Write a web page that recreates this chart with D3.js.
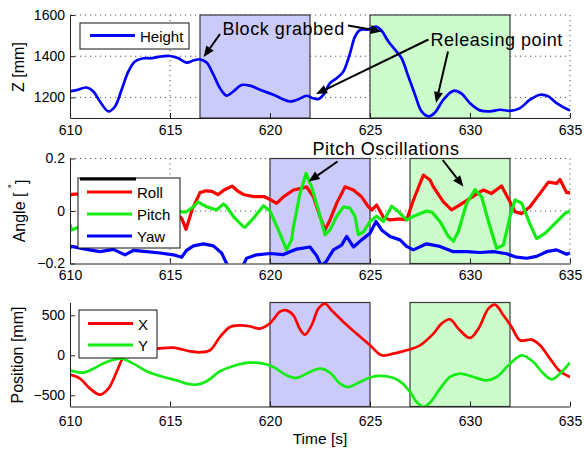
<!DOCTYPE html>
<html>
<head>
<meta charset="utf-8">
<script src="https://cdn.jsdelivr.net/npm/d3@7"></script>
<style>
  body { margin: 0; background: #fff; }
  text { font-family: "Liberation Sans", Arial, Helvetica, sans-serif; fill: #000; }
</style>
</head>
<body>
<div id="chart"></div>
<script>
// time axis
var timeTicks = [610, 615, 620, 625, 630, 635];

// top panel: height [mm]
var zTicks = [1200, 1400, 1600];
var heightZ = [[610,1229],[610.33,1235],[610.83,1248],[611.17,1229],[611.5,1180],[611.92,1132],[612.25,1156],
  [612.58,1237],[612.92,1326],[613.25,1374],[613.67,1390],[614.08,1390],[614.5,1398],[615,1401],[615.42,1390],
  [615.83,1369],[616.17,1379],[616.5,1385],[616.83,1369],[617.17,1310],[617.5,1245],[617.83,1209],[618.17,1229],
  [618.58,1260],[619,1257],[619.5,1237],[620.17,1213],[621,1180],[621.42,1191],[621.83,1208],[622.1,1197],
  [622.42,1192],[622.67,1213],[623,1269],[623.33,1293],[623.67,1326],[624,1414],[624.25,1495],[624.5,1527],
  [624.92,1530],[625.33,1543],[625.58,1524],[625.92,1471],[626.33,1422],[626.58,1390],[626.92,1301],[627.25,1213],
  [627.58,1132],[627.92,1108],[628.25,1127],[628.67,1189],[629.17,1232],[629.58,1218],[630,1172],[630.5,1137],
  [631,1132],[631.5,1140],[632,1135],[632.5,1148],[633,1189],[633.5,1213],[633.92,1205],[634.33,1172],
  [634.92,1140],[635,1138]];

// middle panel: angles
var angleTicks = [-0.2, 0, 0.2];
var roll = [[610,0.06],[610.08,0.063],[610.5,0.065],[611,0.07],[611.5,0.06],[612,0.065],[612.5,0.055],[613,0.06],
  [613.5,0.05],[614,0.055],[614.5,0.04],[615,0.02],[615.4,-0.015],[615.6,-0.03],[615.8,-0.07],[616.1,0.004],
  [616.5,0.07],[616.8,0.077],[617.1,0.075],[617.4,0.062],[617.7,0.08],[618.1,0.095],[618.4,0.075],[618.7,0.062],
  [619.2,0.055],[619.7,0.055],[620,0.044],[620.33,0.029],[620.67,0.054],[621.17,0.08],[621.5,0.085],[621.83,0.092],
  [622.17,0.054],[622.5,-0.021],[622.75,-0.072],[623,-0.034],[623.33,0.029],[623.75,0.092],[624.17,0.08],
  [624.58,0.054],[624.92,0.016],[625.1,0.004],[625.33,0.023],[625.67,-0.024],[626,-0.034],[626.5,-0.03],
  [626.83,-0.034],[627.17,0.042],[627.67,0.137],[628,0.118],[628.17,0.092],[628.5,0.054],[628.67,0.035],
  [629.08,0.004],[629.5,0.023],[630,0.048],[630.5,0.073],[630.67,0.08],[631.08,0.067],[631.58,0.095],[632,0.035],
  [632.25,-0.003],[632.58,-0.01],[633,0.016],[633.5,0.067],[633.92,0.11],[634.33,0.105],[634.5,0.12],
  [634.83,0.07],[635,0.07]];
var pitch = [[610,-0.05],[610.08,-0.072],[610.5,-0.06],[611,-0.04],[611.5,-0.05],[612,-0.03],[612.5,-0.04],
  [613,-0.02],[613.5,-0.03],[614,-0.01],[614.5,-0.02],[615,-0.01],[615.42,-0.003],[615.83,-0.003],[616.17,0.016],
  [616.4,0.035],[616.83,0.016],[617.33,0.004],[617.67,0.027],[617.83,0.016],[618.17,-0.021],[618.67,-0.06],
  [618.75,-0.062],[619.17,-0.028],[619.67,0.02],[620,0],[620.42,-0.072],[620.83,-0.148],[621.08,-0.11],
  [621.17,-0.062],[621.5,0.067],[621.8,0.143],[622.08,0.092],[622.42,0.004],[622.75,-0.091],[623,-0.072],
  [623.33,-0.021],[623.67,0.016],[624,0.011],[624.25,-0.02],[624.42,-0.09],[624.67,-0.08],[625,-0.04],
  [625.33,-0.02],[625.67,-0.04],[626.08,0.018],[626.33,0.004],[626.83,-0.034],[627.33,-0.015],[627.83,0],
  [628.1,-0.005],[628.5,-0.04],[628.92,-0.097],[629.17,-0.115],[629.42,-0.077],[629.83,0.029],[630.25,0.082],
  [630.58,0.054],[631,-0.06],[631.33,-0.142],[631.67,-0.13],[632,-0.021],[632.25,0.042],[632.58,0.03],
  [633,-0.05],[633.33,-0.105],[633.75,-0.085],[634.25,-0.047],[634.75,-0.009],[635,0]];
var yaw = [[610,-0.14],[610.08,-0.135],[610.83,-0.146],[611.5,-0.155],[612.17,-0.146],[612.75,-0.167],
  [613.17,-0.15],[613.83,-0.155],[614.5,-0.16],[615.17,-0.167],[615.58,-0.176],[615.83,-0.15],[616.17,-0.133],
  [616.67,-0.125],[617.17,-0.133],[617.58,-0.16],[617.83,-0.2],[618.1,-0.23],[618.5,-0.23],[618.83,-0.18],
  [619.33,-0.167],[620,-0.162],[620.67,-0.166],[621.33,-0.145],[622,-0.137],[622.33,-0.17],[622.58,-0.21],
  [622.83,-0.19],[623.17,-0.148],[623.58,-0.13],[623.83,-0.097],[624.17,-0.137],[624.58,-0.11],[625,-0.085],
  [625.3,-0.04],[625.58,-0.072],[626,-0.097],[626.5,-0.11],[626.83,-0.135],[627.17,-0.148],[627.83,-0.125],
  [628.5,-0.135],[629.17,-0.155],[629.83,-0.155],[630.5,-0.158],[631.17,-0.155],[631.83,-0.163],[632.33,-0.176],
  [632.83,-0.18],[633.33,-0.173],[633.83,-0.155],[634.33,-0.148],[634.83,-0.165],[635,-0.16]];

// bottom panel: position [mm]
var posTicks = [-500, 0, 500];
var posX = [[610,-242],[610.5,-292],[611,-417],[611.5,-492],[611.92,-417],[612.33,-208],[612.67,-21],[613,63],
  [613.5,90],[614,90],[614.3,83],[615.17,96],[616,50],[616.5,38],[617,63],[617.5,229],[618,354],[618.5,375],
  [619,362],[619.5,333],[620,400],[620.5,545],[620.83,562],[621.17,500],[621.5,325],[621.75,258],[622.08,375],
  [622.42,583],[622.75,646],[623.08,562],[623.67,417],[624.33,271],[625,125],[625.58,0],[626.17,21],[626.83,63],
  [627.5,125],[628.17,271],[628.58,396],[629,450],[629.42,333],[630,217],[630.42,333],[630.92,583],[631.25,633],
  [631.67,500],[632.08,354],[632.5,188],[633.08,196],[633.5,125],[634,-42],[634.5,-200],[635,-271]];
var posY = [[610,-188],[610.67,-217],[611.17,-167],[611.83,-83],[612.58,-42],[613.17,-104],[613.83,-200],
  [614.5,-258],[615.33,-313],[615.83,-354],[616.33,-367],[616.83,-325],[617.5,-200],[618.17,-133],[619,-92],
  [619.67,-104],[620.17,-146],[620.83,-250],[621.33,-283],[621.92,-217],[622.5,-167],[623,-217],[623.5,-354],
  [623.92,-396],[624.5,-333],[625.08,-271],[625.58,-258],[626.17,-283],[626.58,-342],[627,-458],[627.33,-583],
  [627.67,-646],[628,-592],[628.5,-417],[629,-271],[629.5,-229],[630.17,-271],[630.83,-313],[631.33,-271],
  [631.92,-125],[632.58,0],[633.17,-83],[633.67,-229],[634.08,-300],[634.5,-229],[635,-92]];

// shaded phases [start, end]
var grabTop = [616.5, 622], releaseTop = [625, 632];
var grabLow = [620, 625], releaseLow = [627, 632];

var BLUE = "#0000ff", RED = "#ff0000", GREEN = "#14ec14";

var svg = d3.select("#chart").append("svg").attr("width", 584).attr("height", 450);

var x = d3.scaleLinear().domain([610, 635]).range([70, 570]);

var panels = [
  { y: d3.scaleLinear().domain([1100, 1600]).range([118, 15]), ticks: zTicks, grid: true,
    blocks: [grabTop, releaseTop], pad: 7.5, smooth: true,
    series: [{ data: heightZ, color: BLUE, name: "Height" }],
    legend: { x: 80, y: 23, w: 109, h: 26, lx: 90, tx: 140, rows: [35.5] } },
  { y: d3.scaleLinear().domain([-0.2, 0.2]).range([263.5, 158.5]), ticks: angleTicks, grid: true,
    blocks: [grabLow, releaseLow], pad: 6.5, smooth: false,
    series: [{ data: roll, color: RED, name: "Roll" }, { data: pitch, color: GREEN, name: "Pitch" },
             { data: yaw, color: BLUE, name: "Yaw" }],
    legend: { x: 78, y: 178, w: 102, h: 70, lx: 87, tx: 137, rows: [192, 214, 236], bar: true } },
  { y: d3.scaleLinear().domain([-640, 660]).range([406.5, 302.5]), ticks: posTicks, grid: false,
    blocks: [grabLow, releaseLow], pad: 10, smooth: true,
    series: [{ data: posX, color: RED, name: "X" }, { data: posY, color: GREEN, name: "Y" }],
    legend: { x: 79, y: 310, w: 78, h: 48, lx: 88, tx: 138, rows: [323.5, 345] } }
];

function fmt(v) {
  return v < 0 ? "\u2212" + Math.abs(v) : String(v);
}

panels.forEach(function (p, i) {
  var y = p.y, top = y.range()[1], bot = y.range()[0];
  var g = svg.append("g");

  g.append("clipPath").attr("id", "clip" + i).append("rect")
    .attr("x", 70).attr("y", top).attr("width", 500).attr("height", bot - top);

  if (p.grid) {
    var grid = g.append("g").attr("stroke", "#555").attr("stroke-width", 1).attr("stroke-dasharray", "1.2,3.8");
    grid.selectAll(".gx").data(timeTicks.slice(1)).enter().append("line")
      .attr("x1", x).attr("x2", x).attr("y1", top).attr("y2", bot);
    grid.selectAll(".gy").data(p.ticks.filter(function (t) { return y(t) < bot - 1; })).enter().append("line")
      .attr("x1", 70).attr("x2", 570).attr("y1", y).attr("y2", y);
  }

  g.selectAll(".block").data(p.blocks).enter().append("rect")
    .attr("x", function (d) { return x(d[0]); })
    .attr("width", function (d) { return x(d[1]) - x(d[0]); })
    .attr("y", top).attr("height", bot - top)
    .attr("fill", function (d, j) { return j === 0 ? "#cbcbfa" : "#ccfbcc"; })
    .attr("stroke", "#3a3a3a").attr("stroke-width", 1.2);

  var line = d3.line().x(function (d) { return x(d[0]); }).y(function (d) { return y(d[1]); })
    .curve(p.smooth ? d3.curveCatmullRom : d3.curveLinear);

  g.append("g").attr("clip-path", "url(#clip" + i + ")").selectAll("path").data(p.series).enter().append("path")
    .attr("d", function (d) { return line(d.data); })
    .attr("fill", "none").attr("stroke", function (d) { return d.color; })
    .attr("stroke-width", p.smooth ? 2.7 : 3.2).attr("stroke-linejoin", "round");

  var ax = g.append("g").attr("transform", "translate(0," + bot + ")")
    .call(d3.axisBottom(x).tickValues(timeTicks).tickSizeInner(-5).tickSizeOuter(0).tickPadding(p.pad));
  var ay = g.append("g").attr("transform", "translate(70,0)")
    .call(d3.axisLeft(y).tickValues(p.ticks).tickFormat(fmt).tickSizeInner(-5).tickSizeOuter(0).tickPadding(5));
  [ax, ay].forEach(function (a) {
    a.attr("font-size", 14).attr("font-family", null);
    a.selectAll("path, line").attr("stroke", "#222");
  });

  var L = p.legend;
  var lg = g.append("g");
  lg.append("rect").attr("x", L.x).attr("y", L.y).attr("width", L.w).attr("height", L.h)
    .attr("fill", "#fff").attr("stroke", "#111").attr("stroke-width", 1);
  if (L.bar) {
    lg.append("line").attr("x1", L.x + 2).attr("x2", L.x + 58).attr("y1", L.y + 1).attr("y2", L.y + 1)
      .attr("stroke", "#000").attr("stroke-width", 3);
  }
  p.series.forEach(function (s, k) {
    lg.append("line").attr("x1", L.lx).attr("x2", L.lx + 45).attr("y1", L.rows[k]).attr("y2", L.rows[k])
      .attr("stroke", s.color).attr("stroke-width", 2.8);
    lg.append("text").attr("x", L.tx).attr("y", L.rows[k] + 6).attr("font-size", 15).text(s.name);
  });
});

// axis titles
svg.append("text").attr("transform", "translate(23.5,67) rotate(-90)").attr("text-anchor", "middle")
  .attr("font-size", 16).text("Z [mm]");
var angleLabel = svg.append("text").attr("transform", "translate(25,211) rotate(-90)")
  .attr("text-anchor", "middle").attr("font-size", 16);
angleLabel.append("tspan").text("Angle [ ");
angleLabel.append("tspan").attr("dy", "-0.55em").attr("font-size", 12).text("\u02da");
angleLabel.append("tspan").attr("dy", "0.55em").text("]");
svg.append("text").attr("transform", "translate(23,355) rotate(-90)").attr("text-anchor", "middle")
  .attr("font-size", 16).text("Position [mm]");
svg.append("text").attr("x", 320).attr("y", 444).attr("text-anchor", "middle")
  .attr("font-size", 15.5).text("Time [s]");

// annotations: text positions and arrows (tail in px, tip in data of a panel)
var notes = [
  { text: "Block grabbed", x: 222.5, y: 35 },
  { text: "Releasing point", x: 430.5, y: 46 },
  { text: "Pitch Oscillations", x: 312.5, y: 155 }
];
var arrows = [
  { panel: 0, from: [220, 34], t: 616.68, v: 1396 },
  { panel: 0, from: [348, 25.5], t: 625.58, v: 1520 },
  { panel: 0, from: [428.5, 39.5], t: 622.3, v: 1216 },
  { panel: 0, from: [448, 51.5], t: 628.3, v: 1173 },
  { panel: 1, from: [337.5, 161.5], t: 621.93, v: 0.112 },
  { panel: 1, from: [442.7, 160], t: 629.67, v: 0.093 }
];

var ann = svg.append("g");
ann.selectAll("text").data(notes).enter().append("text")
  .attr("x", function (d) { return d.x; }).attr("y", function (d) { return d.y; })
  .attr("font-size", 18).attr("letter-spacing", 0.55).text(function (d) { return d.text; });

arrows.forEach(function (a) {
  var x0 = a.from[0], y0 = a.from[1];
  var x1 = x(a.t), y1 = panels[a.panel].y(a.v);
  var dx = x1 - x0, dy = y1 - y0, len = Math.sqrt(dx * dx + dy * dy);
  var ux = dx / len, uy = dy / len, hl = 11, hw = 4.5;
  var bx = x1 - ux * hl, by = y1 - uy * hl;
  ann.append("line").attr("x1", x0).attr("y1", y0).attr("x2", bx).attr("y2", by)
    .attr("stroke", "#000").attr("stroke-width", 2);
  ann.append("path")
    .attr("d", "M" + x1 + "," + y1 + "L" + (bx - uy * hw) + "," + (by + ux * hw) +
      "L" + (bx + uy * hw) + "," + (by - ux * hw) + "Z")
    .attr("fill", "#000");
});
</script>
</body>
</html>
